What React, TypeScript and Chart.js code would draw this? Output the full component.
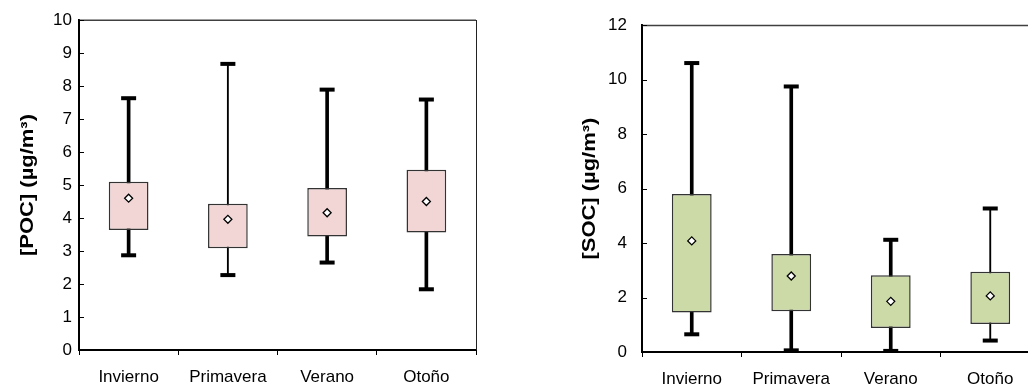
import { useEffect, useRef } from 'react';
import { Chart, registerables } from 'chart.js';

Chart.register(...registerables);

// ---------- data ----------
const categories = ['Invierno', 'Primavera', 'Verano', 'Otoño'];

const pocMin = [2.87, 2.27, 2.65, 1.84];
const pocQ1 = [3.64, 3.08, 3.44, 3.56];
const pocMean = [4.6, 3.96, 4.16, 4.5];
const pocQ3 = [5.1, 4.43, 4.91, 5.46];
const pocMax = [7.63, 8.67, 7.89, 7.59];
const pocThinWhisker = [false, true, false, false];
const pocYTicks = [0, 1, 2, 3, 4, 5, 6, 7, 8, 9, 10];

const socMin = [0.65, 0.06, 0.04, 0.42];
const socQ1 = [1.45, 1.5, 0.88, 1.03];
const socMean = [4.08, 2.79, 1.86, 2.06];
const socQ3 = [5.8, 3.6, 2.82, 2.95];
const socMax = [10.61, 9.75, 4.12, 5.27];
const socThinWhisker = [false, false, false, true];
const socYTicks = [0, 2, 4, 6, 8, 10, 12];

const FONT = '"Liberation Sans", Arial, Helvetica, sans-serif';

interface BoxSpec {
  mins: number[];
  q1: number[];
  mean: number[];
  q3: number[];
  maxs: number[];
  thin: boolean[];
  yTicks: number[];
  fill: string;
  title: string;
  titleBaselineX: number;
  yLabelPad: number;
  canvasW: number;
  plotLeft: number;
  plotRight: number;
  plotTop: number;
  xAxisHeight: number;
}

const framePlugin = {
  id: 'frameTitle',
  afterDraw(chart: any, _args: any, opts: any) {
    const { ctx, chartArea } = chart;
    const { left, right, top, bottom } = chartArea;
    ctx.save();
    // top & right frame
    ctx.strokeStyle = '#404040';
    ctx.lineWidth = 1.5;
    ctx.beginPath();
    ctx.moveTo(left, top + 0.25);
    ctx.lineTo(right, top + 0.25);
    ctx.stroke();
    ctx.strokeStyle = '#222';
    ctx.lineWidth = 1;
    ctx.beginPath();
    ctx.moveTo(Math.round(right) + 0.5, top);
    ctx.lineTo(Math.round(right) + 0.5, bottom);
    ctx.stroke();
    // inward y ticks
    const ys = chart.scales.y;
    ctx.strokeStyle = '#000';
    ctx.lineWidth = 1;
    ys.ticks.forEach((t: any) => {
      const py = Math.round(ys.getPixelForValue(t.value)) + 0.5;
      ctx.beginPath();
      ctx.moveTo(left, py);
      ctx.lineTo(left + 5, py);
      ctx.stroke();
    });
    // y title
    ctx.translate(opts.baselineX, (top + bottom) / 2);
    ctx.rotate(-Math.PI / 2);
    ctx.scale(1.22, 1);
    ctx.font = 'bold 18px ' + FONT;
    ctx.textAlign = 'center';
    ctx.textBaseline = 'alphabetic';
    ctx.fillStyle = '#000';
    ctx.fillText(opts.title, 0, 0);
    ctx.restore();
  },
};

function makeConfig(s: BoxSpec): any {
  const thick = s.thin.map((t, i) => (t ? null : [s.mins[i], s.maxs[i]]));
  const thinW = s.thin.map((t, i) => (t ? [s.mins[i], s.maxs[i]] : null));
  return {
    type: 'bar',
    data: {
      labels: categories,
      datasets: [
        {
          type: 'bar',
          data: thick,
          backgroundColor: '#000',
          borderWidth: 0,
          barThickness: 3,
          grouped: false,
          order: 5,
        },
        {
          type: 'bar',
          data: thinW,
          backgroundColor: '#000',
          borderWidth: 0,
          barThickness: 1.2,
          grouped: false,
          order: 4,
        },
        {
          type: 'bar',
          data: categories.map((_, i) => [s.q1[i], s.q3[i]]),
          backgroundColor: s.fill,
          borderColor: '#333',
          borderWidth: 1.5,
          borderSkipped: false,
          barPercentage: 0.4,
          categoryPercentage: 1,
          grouped: false,
          order: 3,
        },
        {
          type: 'line',
          data: s.maxs,
          showLine: false,
          pointStyle: 'line',
          pointRadius: 7.5,
          pointBorderWidth: 4,
          pointBorderColor: '#000',
          clip: false,
          order: 2,
        },
        {
          type: 'line',
          data: s.mins,
          showLine: false,
          pointStyle: 'line',
          pointRadius: 7.5,
          pointBorderWidth: 4,
          pointBorderColor: '#000',
          clip: false,
          order: 2,
        },
        {
          type: 'line',
          data: s.mean,
          showLine: false,
          pointStyle: 'rectRot',
          pointRadius: 4,
          pointBorderWidth: 1.3,
          pointBorderColor: '#000',
          pointBackgroundColor: '#fff',
          clip: false,
          order: 1,
        },
      ],
    },
    options: {
      animation: false,
      responsive: false,
      events: [],
      layout: {
        padding: { left: 0, top: s.plotTop, right: s.canvasW - s.plotRight, bottom: 0 },
      },
      plugins: {
        legend: { display: false },
        tooltip: { enabled: false },
        frameTitle: { title: s.title, baselineX: s.titleBaselineX },
      },
      scales: {
        x: {
          offset: true,
          grid: {
            display: true,
            offset: true,
            drawOnChartArea: false,
            drawTicks: true,
            tickLength: 5,
            color: '#000',
            tickWidth: 1,
          },
          border: { display: true, color: '#000', width: 2 },
          ticks: { color: '#000', padding: 12, font: { family: FONT, size: 17 } },
          afterFit: (sc: any) => {
            sc.height = s.xAxisHeight;
          },
        },
        y: {
          min: s.yTicks[0],
          max: s.yTicks[s.yTicks.length - 1],
          grid: { display: false, drawTicks: false },
          border: { display: true, color: '#000', width: 2 },
          ticks: {
            stepSize: s.yTicks[1] - s.yTicks[0],
            color: '#000',
            padding: s.yLabelPad,
            font: { family: FONT, size: 17 },
          },
          afterFit: (sc: any) => {
            sc.width = s.plotLeft;
          },
        },
      },
    },
    plugins: [framePlugin],
  };
}

const leftSpec: BoxSpec = {
  mins: pocMin,
  q1: pocQ1,
  mean: pocMean,
  q3: pocQ3,
  maxs: pocMax,
  thin: pocThinWhisker,
  yTicks: pocYTicks,
  fill: '#f2d6d6',
  title: '[POC] (µg/m³)',
  titleBaselineX: 32.5,
  yLabelPad: 7,
  canvasW: 510,
  plotLeft: 79,
  plotRight: 476,
  plotTop: 20,
  xAxisHeight: 36,
};

const rightSpec: BoxSpec = {
  mins: socMin,
  q1: socQ1,
  mean: socMean,
  q3: socQ3,
  maxs: socMax,
  thin: socThinWhisker,
  yTicks: socYTicks,
  fill: '#ccdaa8',
  title: '[SOC] (µg/m³)',
  titleBaselineX: 85,
  yLabelPad: 15,
  canvasW: 560,
  plotLeft: 132,
  plotRight: 530,
  plotTop: 20,
  xAxisHeight: 34,
};

function BoxChart({ spec, left }: { spec: BoxSpec; left: number }) {
  const ref = useRef<HTMLCanvasElement | null>(null);
  useEffect(() => {
    if (!ref.current) return;
    const chart = new Chart(ref.current, makeConfig(spec));
    return () => chart.destroy();
  }, [spec]);
  return (
    <canvas
      ref={ref}
      width={spec.canvasW}
      height={386}
      style={{ position: 'absolute', left, top: 0, width: spec.canvasW, height: 386 }}
    />
  );
}

export default function App() {
  return (
    <div
      style={{
        position: 'fixed',
        left: 0,
        top: 0,
        width: 1028,
        height: 386,
        overflow: 'hidden',
        background: '#fff',
      }}
    >
      <BoxChart spec={leftSpec} left={0} />
      <BoxChart spec={rightSpec} left={510} />
    </div>
  );
}
